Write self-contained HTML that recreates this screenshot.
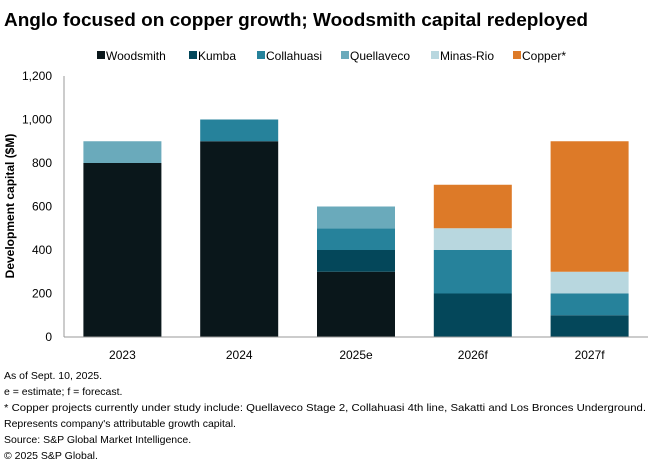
<!DOCTYPE html>
<html><head><meta charset="utf-8"><style>
body{margin:0;background:#fff;width:660px;height:471px;overflow:hidden}
svg{display:block;font-family:"Liberation Sans",sans-serif}
</style></head><body>
<svg id="chart" width="660" height="471">
<text x="4" y="26" font-size="18" font-weight="bold" fill="#000" textLength="584" lengthAdjust="spacingAndGlyphs">Anglo focused on copper growth; Woodsmith capital redeployed</text>
<g id="legend"></g>
<g id="bars"></g>
<g id="axes"></g>
<text transform="translate(14,206) rotate(-90)" text-anchor="middle" font-size="12" font-weight="bold" fill="#000">Development capital ($M)</text>
<g font-size="10.5" fill="#000">
<text x="4" y="379">As of Sept. 10, 2025.</text>
<text x="4" y="395">e = estimate; f = forecast.</text>
<text x="4" y="411" textLength="642" lengthAdjust="spacingAndGlyphs">* Copper projects currently under study include: Quellaveco Stage 2, Collahuasi 4th line, Sakatti and Los Bronces Underground.</text>
<text x="4" y="427">Represents company's attributable growth capital.</text>
<text x="4" y="443">Source: S&amp;P Global Market Intelligence.</text>
<text x="4" y="459">© 2025 S&amp;P Global.</text>
</g>
</svg>
<script>
const categories=["2023","2024","2025e","2026f","2027f"];
const seriesNames=["Woodsmith","Kumba","Collahuasi","Quellaveco","Minas-Rio","Copper*"];
const woodsmith=[800,900,300,0,0];
const kumba=[0,0,100,200,100];
const collahuasi=[0,100,100,200,100];
const quellaveco=[100,0,100,0,0];
const minasRio=[0,0,0,100,100];
const copper=[0,0,0,200,600];
const yTicks=[0,200,400,600,800,1000,1200];
const colors=["#0a171b","#04475a","#26829b","#6aaabb","#b8d7df","#dd7a28"];
const series=[woodsmith,kumba,collahuasi,quellaveco,minasRio,copper];
const NS="http://www.w3.org/2000/svg";
const x0=64,x1=648,y0=337,yTop=76,yMax=1200;
const band=(x1-x0)/categories.length,bw=78;
const yS=v=>y0-(v/yMax)*(y0-yTop);
const xS=i=>x0+band*i+band/2;
function mk(t,a,p){const e=document.createElementNS(NS,t);for(const k in a)e.setAttribute(k,a[k]);p.appendChild(e);return e;}
const bars=document.getElementById('bars'),axes=document.getElementById('axes'),legend=document.getElementById('legend');
categories.forEach((c,i)=>{let acc=0;
 series.forEach((s,j)=>{const v=s[i];if(!v)return;
  const r=mk('rect',{x:xS(i)-bw/2,y:yS(acc+v),width:bw,height:yS(acc)-yS(acc+v),fill:colors[j]},bars);
  
  
  acc+=v;});
 const t=mk('text',{x:xS(i),y:y0+22,'text-anchor':'middle','font-size':'12',fill:'#000'},axes);t.textContent=c;
 
 
});
yTicks.forEach(v=>{const t=mk('text',{x:52,y:yS(v)+4,'text-anchor':'end','font-size':'12',fill:'#000'},axes);t.textContent=v.toLocaleString('en-US');
 
 });
const ya=mk('line',{x1:x0,y1:yTop,x2:x0,y2:y0,stroke:'#999','stroke-width':1},axes);


const xa=mk('line',{x1:x0,y1:y0,x2:x1,y2:y0,stroke:'#999','stroke-width':1},axes);


const lx=[97,189,257,341,431,513];
seriesNames.forEach((n,j)=>{
 const g=mk('g',{},legend);
 
 
 mk('rect',{x:lx[j],y:51,width:8,height:8,fill:colors[j]},g);
 const t=mk('text',{x:lx[j]+9,y:60,'font-size':'12',fill:'#000'},g);t.textContent=n;
});
</script>
</body></html>
